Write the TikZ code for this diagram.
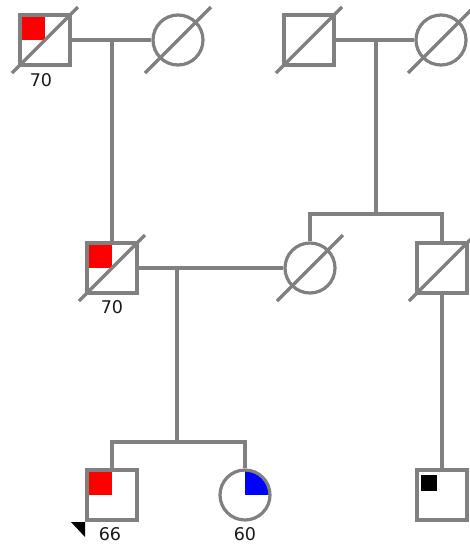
\documentclass[tikz,border=0pt]{standalone}
\usepackage{fontspec}
\setmainfont{DejaVu Sans}
\definecolor{pedline}{RGB}{128,128,128}

\begin{document}
\begin{tikzpicture}[x=1pt, y=-1pt, line width=3.2pt, draw=pedline,
  male/.style={rectangle, draw=pedline, fill=white, line width=3.2pt, minimum size=50pt, inner sep=0pt},
  female/.style={circle, draw=pedline, fill=white, line width=3.2pt, minimum size=50pt, inner sep=0pt},
  affected/.style={path picture={\fill[red] (path picture bounding box.north west) rectangle (path picture bounding box.center);}},
  quarterblue/.style={path picture={\fill[blue] (path picture bounding box.center) rectangle (path picture bounding box.north east);}},
  carrier/.style={path picture={\fill[black] ([shift={(4,5)}]path picture bounding box.north west) rectangle ++(16,16);}},
  deadline/.style={draw=pedline, line width=3.2pt},
  age/.style={font=\fontsize{17.5}{17.5}\selectfont, text=black!90, inner sep=0pt}]
\useasboundingbox (0,0) rectangle (469,544);
\node[male, affected] (gf1) at (45,40) {};
\node[female] (gm1) at (178,40) {};
\node[male] (gf2) at (309,40) {};
\node[female] (gm2) at (441,40) {};
\node[male, affected] (fa) at (112,268) {};
\node[female] (mo) at (310,268) {};
\node[male] (un) at (442,268) {};
\node[male, affected] (pb) at (112,495) {};
\node[female, quarterblue] (si) at (245,495) {};
\node[male, carrier] (co) at (442,495) {};
\coordinate (c1) at (112,40);
\coordinate (c2) at (376,40);
\coordinate (s2) at (376,214);
\coordinate (s2l) at (310,214);
\coordinate (s2r) at (442,214);
\coordinate (c3) at (177,268);
\coordinate (s3) at (177,442);
\coordinate (s3l) at (112,442);
\coordinate (s3r) at (245,442);
\draw (gf1) -- (gm1);
\draw (gf2) -- (gm2);
\draw (c1) -- (fa);
\draw (c2) -- (s2);
\draw (mo) -- (s2l) -- (s2r) -- (un);
\draw (fa) -- (mo);
\draw (c3) -- (s3);
\draw (pb) -- (s3l) -- (s3r) -- (si);
\draw (un) -- (co);
\foreach \n in {gf1,gm1,gf2,gm2,fa,mo,un}
  \draw[deadline] ([shift={(-33,33)}]\n.center) -- ([shift={(33,-33)}]\n.center);
\fill[black] (71,522) -- (85,522) -- (85,537) -- cycle;
\node[age] (gf1age) at (41,80) {70};
\node[age] (faage) at (112,307) {70};
\node[age] (pbage) at (110,534) {66};
\node[age] (siage) at (245,534) {60};
\end{tikzpicture}
\end{document}
